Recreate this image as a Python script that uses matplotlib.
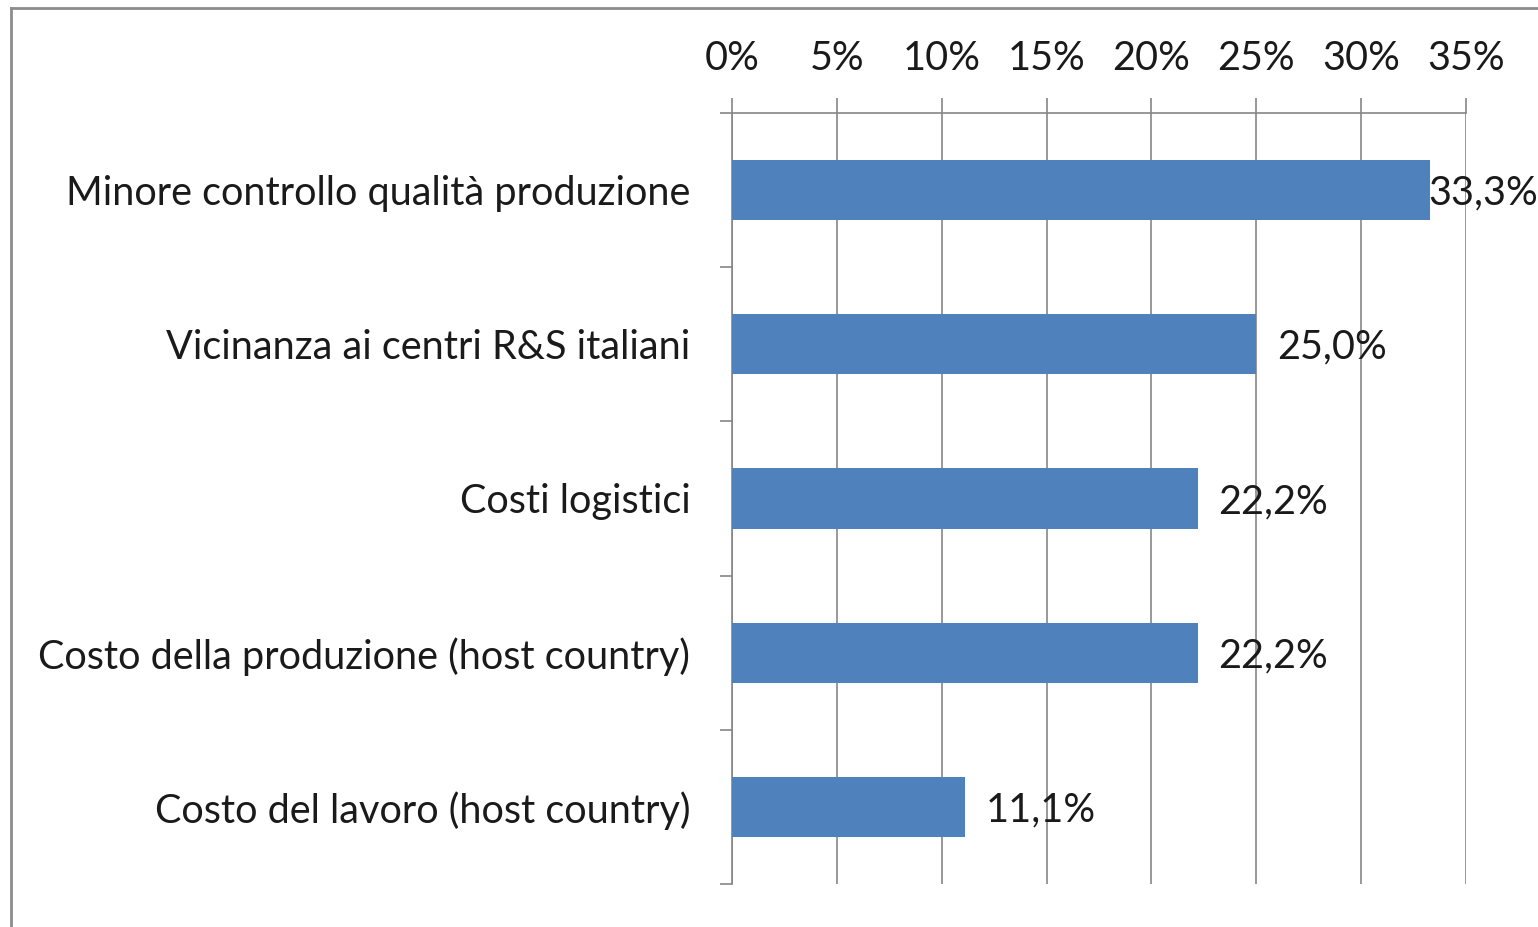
import matplotlib
matplotlib.use("Agg")
import matplotlib.pyplot as plt
from matplotlib.lines import Line2D
from matplotlib.ticker import FixedLocator

categories = [
    "Minore controllo qualità produzione",
    "Vicinanza ai centri R&S italiani",
    "Costi logistici",
    "Costo della produzione (host country)",
    "Costo del lavoro (host country)",
]
values = [33.3, 25.0, 22.2, 22.2, 11.1]
value_labels = ["33,3%", "25,0%", "22,2%", "22,2%", "11,1%"]
xticks = [0, 5, 10, 15, 20, 25, 30, 35]
xtick_labels = ["0%", "5%", "10%", "15%", "20%", "25%", "30%", "35%"]

plt.rcParams['font.family'] = ['Lato', 'DejaVu Sans']

W, H = 1538, 927
fig = plt.figure(figsize=(W / 100, H / 100), dpi=100)
fig.patch.set_facecolor('white')

ax = fig.add_axes([732 / W, 1 - 884 / H, (1466 - 732) / W, (884 - 113) / H])

grey = '#868686'
bar_color = '#4F81BD'
txt = '#1a1a1a'
fs = 28.5

pos = list(range(len(categories)))
ax.barh(pos, values, height=0.39, color=bar_color, zorder=3)

ax.set_xlim(0, 35)
ax.set_ylim(len(categories) - 0.5, -0.5)

ax.xaxis.tick_top()
ax.set_xticks(xticks)
ax.set_xticklabels(xtick_labels, fontsize=fs, color=txt)
ax.tick_params(axis='x', direction='out', length=11, width=1.2, color=grey, pad=15)
ax.grid(axis='x', color=grey, linewidth=1.2, zorder=1)

ax.set_yticks(pos)
ax.set_yticklabels(categories, fontsize=fs, color=txt)
ax.tick_params(axis='y', which='major', length=0, pad=30)
ax.yaxis.set_minor_locator(FixedLocator([i - 0.5 for i in range(len(categories) + 1)]))
ax.tick_params(axis='y', which='minor', direction='out', length=9, width=1.2, color=grey)

for s in ['right', 'bottom']:
    ax.spines[s].set_visible(False)
for s in ['left', 'top']:
    ax.spines[s].set_color(grey)
    ax.spines[s].set_linewidth(1.2)

for i, (v, lab) in enumerate(zip(values, value_labels)):
    x = v + 1.0
    if x > 33:
        x = v - 0.1
    ax.text(x, i + 0.02, lab, va='center', ha='left', fontsize=fs, color=txt, zorder=4)

# outer chart border (only top and left visible in the crop)
fig.add_artist(Line2D([11 / W, 11 / W], [0, 1 - 8 / H], transform=fig.transFigure, color='#8c8c8c', linewidth=2))
fig.add_artist(Line2D([11 / W, 1], [1 - 8 / H, 1 - 8 / H], transform=fig.transFigure, color='#8c8c8c', linewidth=2))

fig.savefig('out.png', dpi=100)
